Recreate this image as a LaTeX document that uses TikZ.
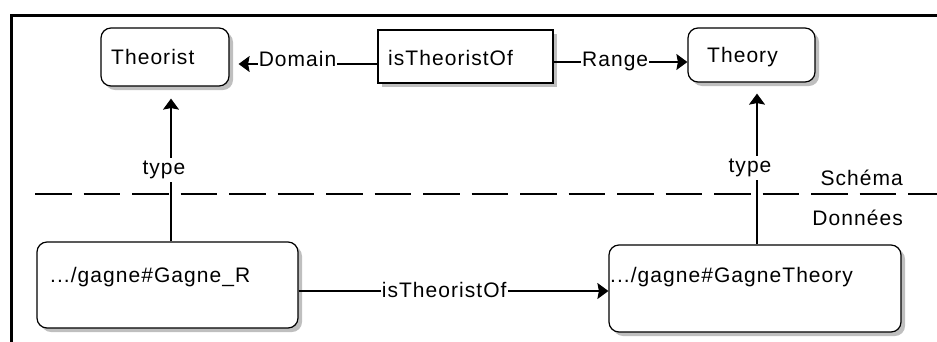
\documentclass[tikz,border=0pt]{standalone}
\usepackage{fontspec}
\setmainfont{Liberation Sans}[LetterSpace=5]
\usetikzlibrary{arrows.meta,shadows}
\begin{document}
\begin{tikzpicture}[x=1pt,y=-1pt,
  font=\fontsize{21pt}{25pt}\selectfont,
  box/.style={draw=black, line width=1.2pt, fill=white, inner sep=0pt,
    drop shadow={shadow xshift=4pt, shadow yshift=-4pt, fill=black!25, opacity=1}},
  rbox/.style={box, rounded corners=10pt},
  txt/.style={inner sep=0pt, anchor=base west},
  conn/.style={line width=1.2pt},
  arr/.style={conn, -{Stealth[length=11pt,width=16pt,inset=1.5pt]}},
  lbl/.style={fill=white, inner xsep=1pt, inner ysep=3pt, anchor=base},
]
\useasboundingbox (0,0) rectangle (937,341);
% frame
\draw[line width=3pt] (11,360) -- (11,15) -- (960,15);
% separator
\draw[conn, dash pattern=on 36.5pt off 12pt] (35,194) -- (950,194);
% boxes
\node[rbox, minimum width=128pt, minimum height=58pt] (theorist) at (165,57) {};
\node[box, minimum width=175pt, minimum height=53pt] (isto) at (465.5,56.5) {};
\node[rbox, minimum width=127pt, minimum height=54pt] (theory) at (751.5,55) {};
\node[rbox, minimum width=261pt, minimum height=86pt] (gagneR) at (167.5,285) {};
\node[rbox, minimum width=292pt, minimum height=87pt] (gagneT) at (755,288.5) {};
% texts
\node[txt] (theoristT) at (111,64) {Theorist};
\node[txt] (istoT) at (388,65) {isTheoristOf};
\node[txt] (theoryT) at (707,62) {Theory};
\node[txt] (gagneRT) at (50,282) {.../gagne\#Gagne\_R};
\node[txt] (gagneTT) at (610,282) {.../gagne\#GagneTheory};
\node[inner sep=0pt, anchor=base east] (schema) at (903,185) {Schéma};
\node[inner sep=0pt, anchor=base east] (donnees) at (903,225) {Données};
% connectors
\draw[arr, shorten >=9pt] (isto.west |- 0,64) -- node[lbl, pos=0.54, yshift=-2pt] (domL) {Domain} (theorist.east |- 0,64);
\draw[arr] (isto.east |- 0,62) -- node[lbl, pos=0.46, yshift=-4pt] (rangeL) {Range} (theory.west |- 0,62);
\draw[arr] (gagneR.east |- 0,291) -- node[lbl, pos=0.47, yshift=-6pt] (istoL) {isTheoristOf} (gagneT.west |- 0,291);
\draw[arr, shorten >=12pt] (gagneR.north -| 171,0) -- node[lbl, pos=0.4295, xshift=-7pt] (typeL) {type} (theorist.south -| 171,0);
\draw[arr, shorten >=11pt] (gagneT.north -| 757,0) -- node[lbl, pos=0.4417, xshift=-7pt] (typeR) {type} (theory.south -| 757,0);
\end{tikzpicture}
\end{document}
